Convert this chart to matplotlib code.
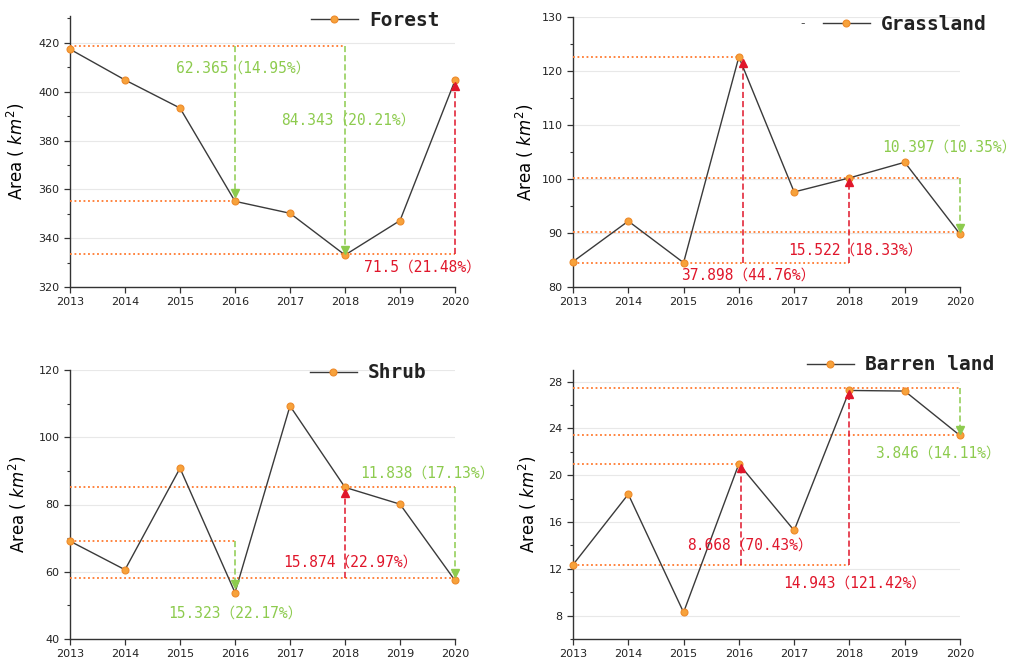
import matplotlib
matplotlib.use('Agg')
import matplotlib.pyplot as plt
from matplotlib.ticker import MultipleLocator

# ----- datos -----
years = [2013, 2014, 2015, 2016, 2017, 2018, 2019, 2020]

forest = [417.4, 404.8, 393.3, 355.1, 350.2, 333.1, 347.2, 404.6]
grassland = [84.7, 92.2, 84.5, 122.6, 97.6, 100.2, 103.1, 89.8]
shrub = [69.1, 60.6, 90.8, 53.8, 109.3, 85.1, 80.1, 57.4]
barren = [12.35, 18.38, 8.28, 20.97, 15.28, 27.25, 27.2, 23.4]

# lineas de referencia horizontales: (y, año final)
forest_ref = [(418.9, 2018), (355.4, 2016), (333.4, 2020)]
grass_ref = [(122.65, 2016), (100.2, 2020), (90.1, 2020), (84.4, 2018)]
shrub_ref = [(69.0, 2016), (85.2, 2020), (58.2, 2020)]
barren_ref = [(27.43, 2020), (23.4, 2020), (20.94, 2016), (12.33, 2018)]

# flechas: (x, y inicio, y punta, tipo)
forest_arr = [(2016, 418.9, 358.5, 'dec'), (2018, 418.9, 335.0, 'dec'), (2020, 333.4, 402.5, 'inc')]
grass_arr = [(2016.07, 84.4, 121.4, 'inc'), (2018, 84.4, 99.4, 'inc'), (2020, 100.2, 90.9, 'dec')]
shrub_arr = [(2016, 69.0, 56.4, 'dec'), (2018, 58.2, 83.4, 'inc'), (2020, 85.2, 59.6, 'dec')]
barren_arr = [(2016.04, 12.33, 20.6, 'inc'), (2018, 12.33, 26.95, 'inc'), (2020, 27.43, 23.9, 'dec')]

# etiquetas: (x, y, texto, tipo)
forest_lab = [(2016.15, 409.5, '62.365（14.95%）', 'dec'),
              (2018.05, 388.5, '84.343（20.21%）', 'dec'),
              (2019.4, 328.2, '71.5（21.48%）', 'inc')]
grass_lab = [(2016.16, 82.2, '37.898（44.76%）', 'inc'),
             (2018.1, 86.9, '15.522（18.33%）', 'inc'),
             (2019.8, 105.9, '10.397（10.35%）', 'dec')]
shrub_lab = [(2016.0, 47.8, '15.323（22.17%）', 'dec'),
             (2018.1, 63.0, '15.874（22.97%）', 'inc'),
             (2019.5, 89.4, '11.838（17.13%）', 'dec')]
barren_lab = [(2016.2, 14.0, '8.668（70.43%）', 'inc'),
              (2018.1, 10.8, '14.943（121.42%）', 'inc'),
              (2019.6, 21.9, '3.846（14.11%）', 'dec')]

colores = {'inc': '#E0162B', 'dec': '#8DCB4E'}
c_ref = '#FF7A2F'
fam_txt = ['DejaVu Sans Mono', 'Noto Sans CJK SC']

paneles = [
    # nombre, datos, refs, flechas, etiquetas, posicion (px), ylim, major, minor, ylabel x, legend anchor
    ('Forest', forest, forest_ref, forest_arr, forest_lab,
     (70, 16, 455, 287), (320, 431), 20, 10, -0.112, (0.626, 0.985)),
    ('Grassland', grassland, grass_ref, grass_arr, grass_lab,
     (573, 17, 960, 287), (80, 130), 10, 5, -0.096, (0.646, 0.974)),
    ('Shrub', shrub, shrub_ref, shrub_arr, shrub_lab,
     (70, 370, 455, 639), (40, 120), 20, 10, -0.107, (0.623, 0.989)),
    ('Barren land', barren, barren_ref, barren_arr, barren_lab,
     (573, 370, 960, 639), (6, 29), 4, 2, -0.088, (0.605, 1.019)),
]

W, H = 1020, 666
fig = plt.figure(figsize=(W / 100, H / 100), dpi=100)

for nombre, vals, refs, arrs, labs, pos, ylim, maj, mnr, ylx, leg_anchor in paneles:
    x0, y0, x1, y1 = pos
    ax = fig.add_axes([x0 / W, 1 - y1 / H, (x1 - x0) / W, (y1 - y0) / H])

    ax.plot(years, vals, '-', color='#3a3a3a', lw=1.0, marker='o', ms=5,
            mfc='#F7A23B', mec='#EE8A2A', mew=0.8, label=nombre, zorder=5,
            clip_on=False)

    for yv, xe in refs:
        ax.plot([years[0], xe], [yv, yv], color=c_ref, lw=1.3,
                linestyle=(0, (1, 1.5)), zorder=3, clip_on=False)

    for xa, ys, ye, tipo in arrs:
        c = colores[tipo]
        ax.vlines(xa, ys, ye, colors=c, lw=1.1, linestyles=(0, (4, 2)),
                  zorder=4, clip_on=False)
        ax.plot(xa, ye, marker='^' if ye > ys else 'v', ms=6, color=c,
                mec=c, zorder=6, clip_on=False)

    for xt, yt, txt, tipo in labs:
        ax.text(xt, yt, txt, color=colores[tipo], fontsize=10.5, family=fam_txt,
                ha='center', va='center', zorder=7)

    ax.set_xlim(2013, 2020)
    ax.set_ylim(*ylim)
    ax.set_xticks(years)
    ax.yaxis.set_major_locator(MultipleLocator(maj))
    ax.yaxis.set_minor_locator(MultipleLocator(mnr))
    ax.tick_params(axis='both', which='major', labelsize=8, length=4,
                   width=0.9, color='#333333', labelcolor='#222222')
    ax.tick_params(axis='y', which='minor', length=2.5, width=0.8, color='#333333')
    ax.grid(axis='y', which='major', color='#e8e8e8', lw=0.8, zorder=0)
    ax.set_axisbelow(True)
    for s in ['top', 'right']:
        ax.spines[s].set_visible(False)
    for s in ['left', 'bottom']:
        ax.spines[s].set_color('#333333')
        ax.spines[s].set_linewidth(1.0)

    ax.set_ylabel(r'Area ( $km^2$)', fontsize=12)
    ax.yaxis.set_label_coords(ylx, 0.5)

    leg = ax.legend(loc='center left', bbox_to_anchor=leg_anchor, frameon=False,
                    borderpad=0, borderaxespad=0, handlelength=2.4,
                    handletextpad=0.6,
                    prop={'family': 'DejaVu Sans Mono', 'weight': 'bold', 'size': 14})
    leg.set_zorder(10)
    for t in leg.get_texts():
        t.set_color('#222222')

    if nombre == 'Grassland':
        ax.text(0.593, 0.974, '-', transform=ax.transAxes, fontsize=9,
                color='#555555', ha='center', va='center')

plt.savefig('out.png', dpi=100)
